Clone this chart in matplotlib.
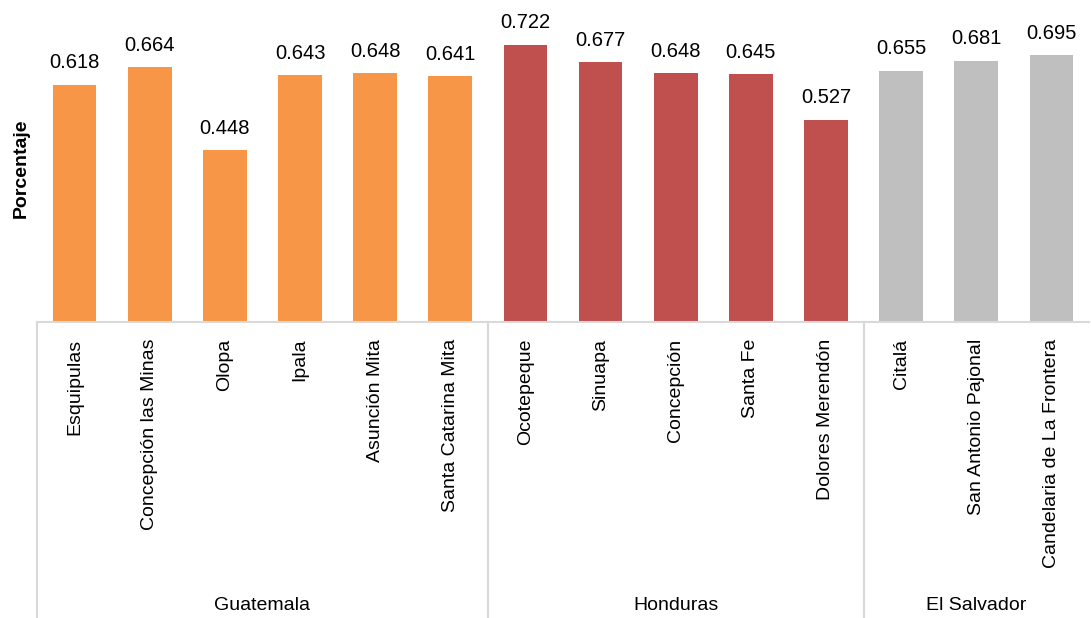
import matplotlib
matplotlib.use("Agg")
import matplotlib.pyplot as plt
from matplotlib import font_manager
from matplotlib.transforms import blended_transform_factory

names = {f.name for f in font_manager.fontManager.ttflist}
fam = "Liberation Sans Narrow" if "Liberation Sans Narrow" in names else "Liberation Sans"
plt.rcParams['font.family'] = [fam, 'DejaVu Sans']

categories = ["Esquipulas", "Concepción las Minas", "Olopa", "Ipala", "Asunción Mita",
              "Santa Catarina Mita", "Ocotepeque", "Sinuapa", "Concepción", "Santa Fe",
              "Dolores Merendón", "Citalá", "San Antonio Pajonal", "Candelaria de La Frontera"]
values = [0.618, 0.664, 0.448, 0.643, 0.648, 0.641, 0.722, 0.677, 0.648, 0.645,
          0.527, 0.655, 0.681, 0.695]
groups = ["Guatemala", "Honduras", "El Salvador"]
group_sizes = [6, 5, 3]
group_colors = ["#F79646", "#C0504D", "#BFBFBF"]

W, H = 1091, 618
fig = plt.figure(figsize=(W / 100, H / 100), dpi=100)
left, right, top, base = 37, 1089, 15, 322
ax = fig.add_axes([left / W, (H - base) / H, (right - left) / W, (base - top) / H])

colors = []
for c, n in zip(group_colors, group_sizes):
    colors += [c] * n
x = list(range(len(categories)))
bars = ax.bar(x, values, width=0.58, color=colors)
for xi, v in zip(x, values):
    ax.annotate(f"{v:.3f}", (xi, v), xytext=(0, 9), textcoords="offset points",
                ha="center", va="bottom", fontsize=14.5, color="#000000")

ax.set_xlim(-0.5, len(categories) - 0.5)
ax.set_ylim(0, 0.8)
for s in ["top", "right", "left"]:
    ax.spines[s].set_visible(False)
ax.spines["bottom"].set_color("#D9D9D9")
ax.spines["bottom"].set_linewidth(1.5)
ax.set_yticks([])
ax.set_xticks(x)
ax.set_xticklabels(categories, rotation=90, fontsize=14, va="top", ha="center")
ax.tick_params(axis="x", length=0, pad=12)
ax.set_ylabel("Porcentaje", fontsize=14, fontweight="bold", labelpad=5)

# group separators and labels
tr = blended_transform_factory(ax.transData, fig.transFigure)
bnds = [-0.5]
for n in group_sizes:
    bnds.append(bnds[-1] + n)
for b in bnds[:-1]:
    ax.plot([b, b], [(H - base) / H, 0], transform=tr, color="#D9D9D9",
            linewidth=1.5, clip_on=False)
for i, g in enumerate(groups):
    cx = (bnds[i] + bnds[i + 1]) / 2
    ax.text(cx, (H - 605) / H, g, transform=tr, ha="center", va="center", fontsize=14)

fig.savefig("out.png", dpi=100)
